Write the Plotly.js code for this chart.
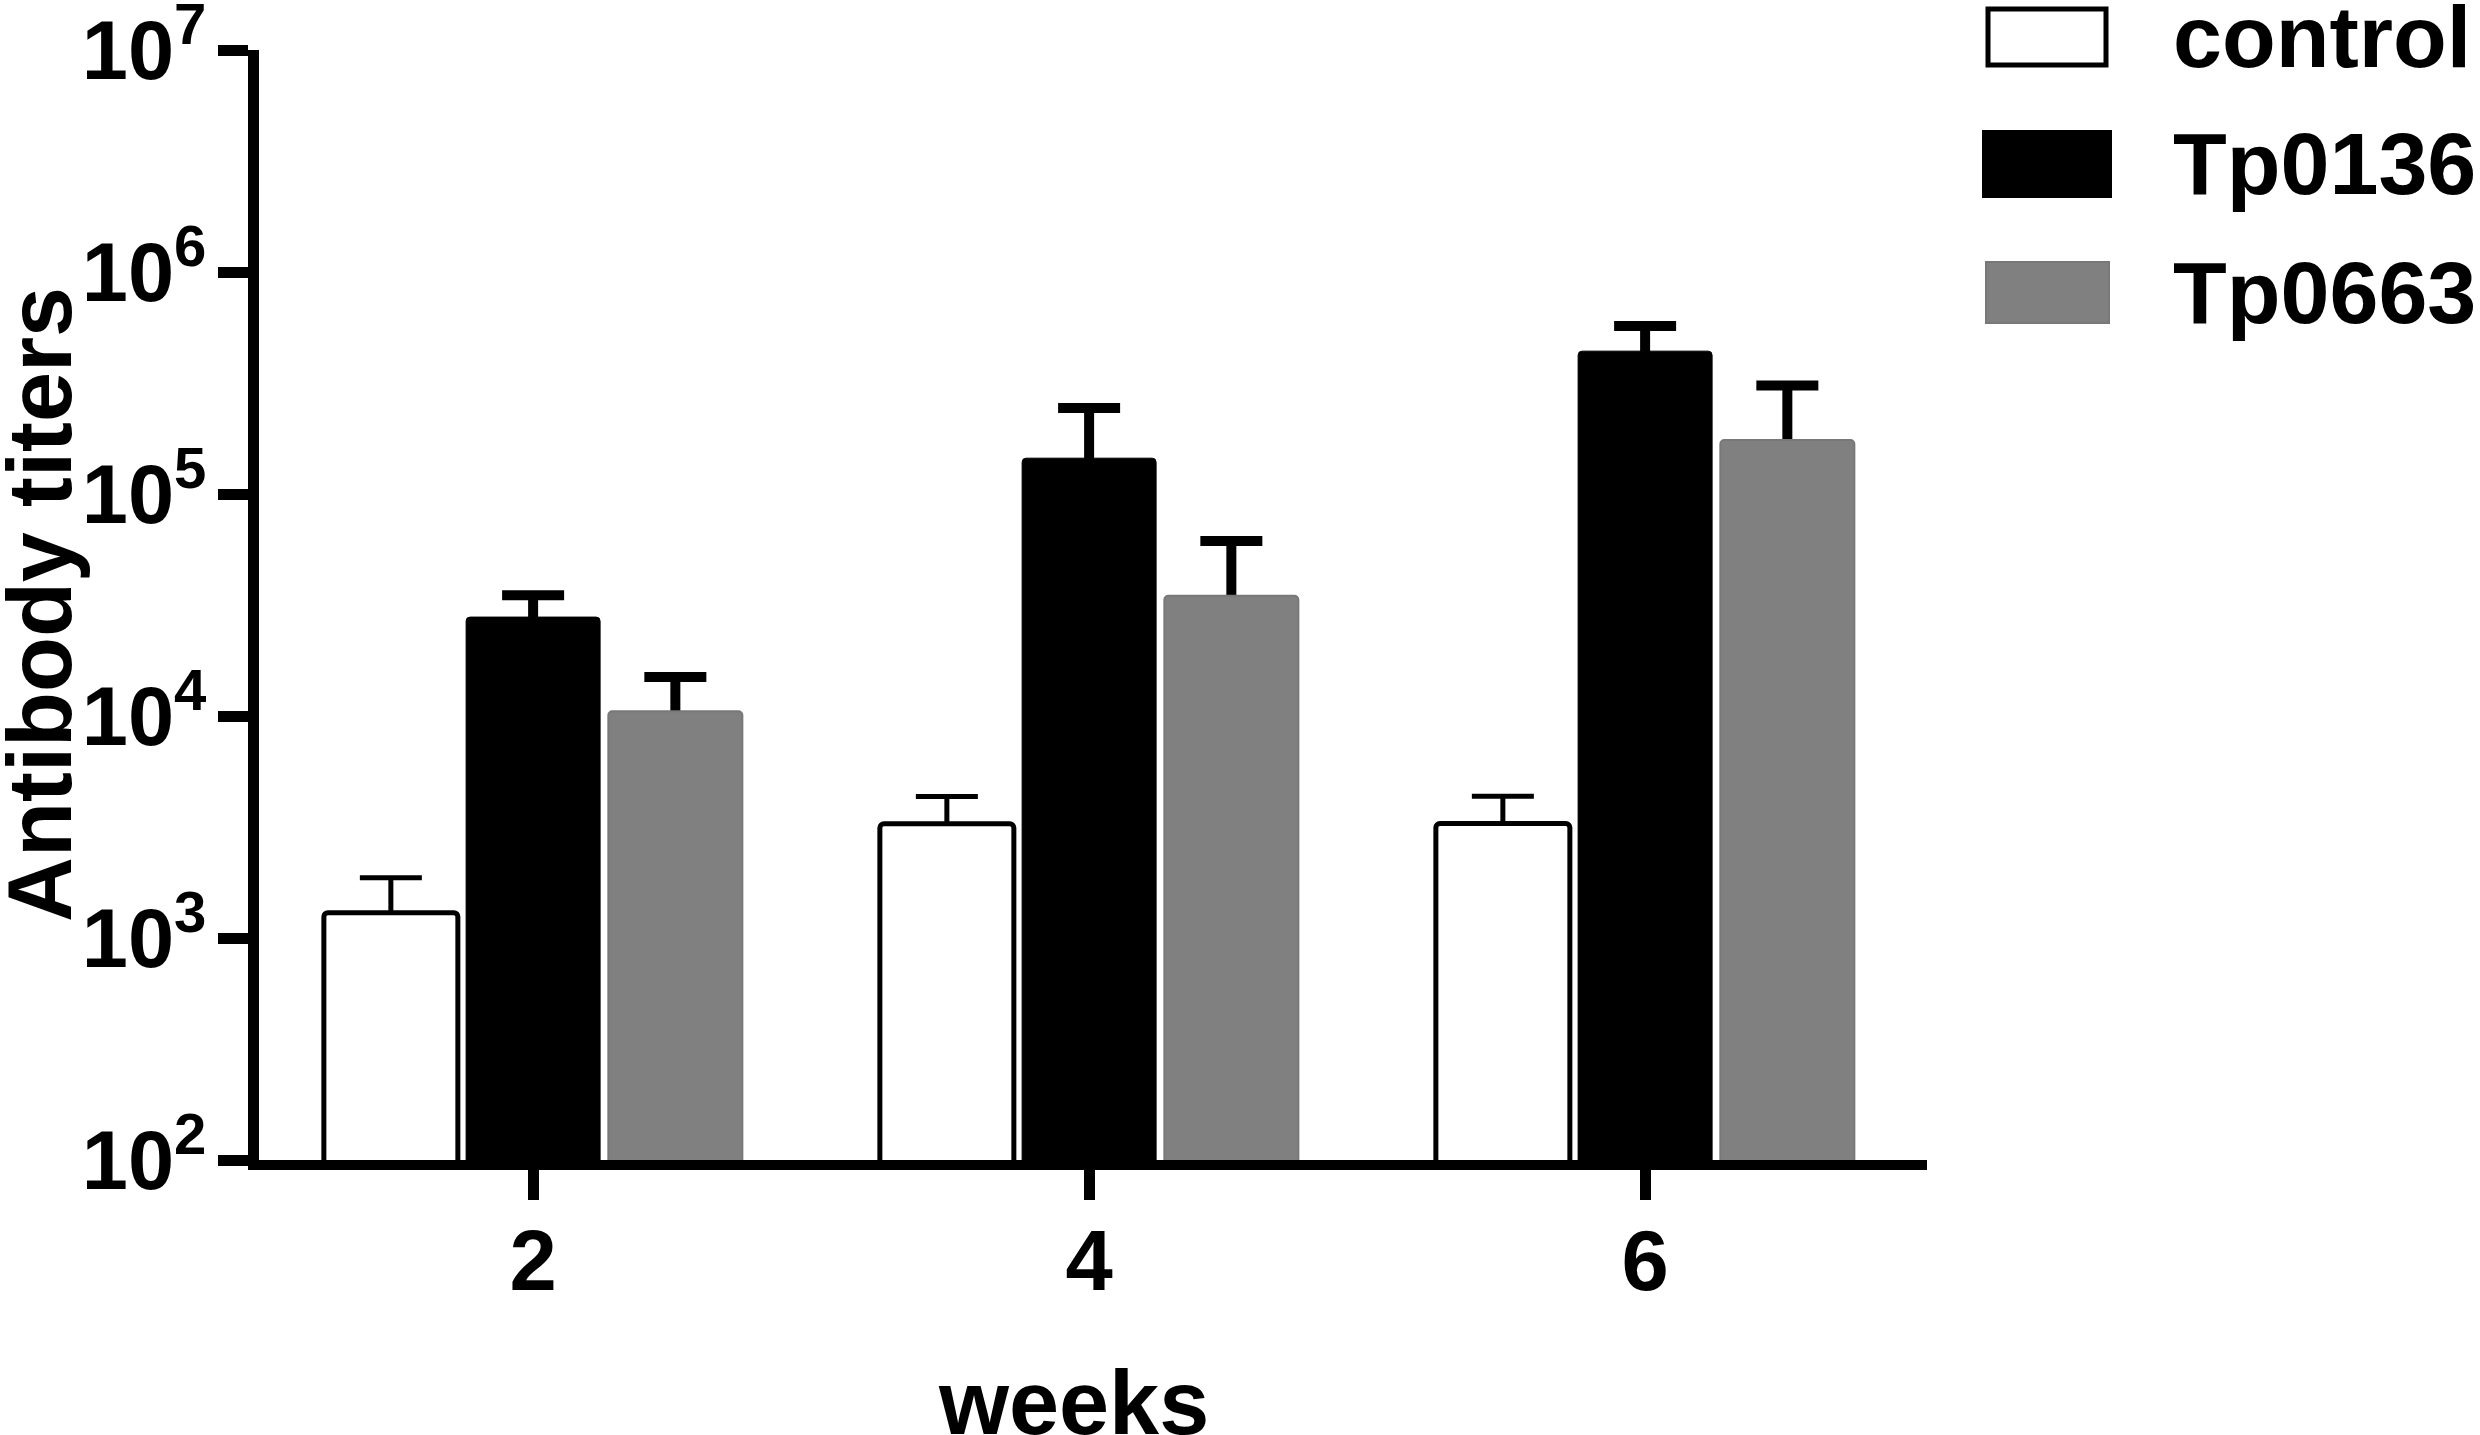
<!DOCTYPE html>
<html>
<head>
<meta charset="utf-8">
<script src="https://cdn.plot.ly/plotly-3.0.1.min.js"></script>
<style>
  html, body { margin: 0; padding: 0; background: #fff; }
  #chart { width: 2480px; height: 1435px; }
</style>
</head>
<body>
<div id="chart"></div>
<script>
// values (antibody titers, log scale)
var weeks = ["2", "4", "6"];
var seriesNames = ["control", "Tp0136", "Tp0663"];
var controlMean = [1300, 3270, 3280];
var controlErr = [570, 1070, 1070];
var tp0136Mean = [27900, 145000, 440000];
var tp0136Err = [7100, 99000, 131000];
var tp0663Mean = [10500, 34800, 175000];
var tp0663Err = [4500, 26600, 133000];
var yTickVals = [1e2, 1e3, 1e4, 1e5, 1e6, 1e7];
var yTickText = ["10<sup>2</sup>", "10<sup>3</sup>", "10<sup>4</sup>", "10<sup>5</sup>", "10<sup>6</sup>", "10<sup>7</sup>"];
var xTitle = "weeks";
var yTitle = "Antibody titers";

var W = 2480, H = 1435;
var M = {l: 259, r: 553, t: 50, b: 275};
var FONT = "Liberation Sans, Arial, Helvetica, sans-serif";
var Y_MIN = 100;

var means = [controlMean, tp0136Mean, tp0663Mean];
var errs = [controlErr, tp0136Err, tp0663Err];
var fills = ["#ffffff", "#000000", "#808080"];
var outlines = ["#000000", "#000000", "#787878"];
var outlineW = [5, 1, 2];
var errThick = [5, 10, 10];

var traces = [];
// error bars first, so the real bars drawn later hide the part inside them
for (var i = 0; i < 3; i++) {
    var down = means[i].map(function(v) { return v - Y_MIN; });
    traces.push({
        type: "bar",
        x: weeks,
        y: means[i],
        offsetgroup: "g" + i,
        marker: {color: "rgba(0,0,0,0)", line: {width: 0}},
        error_y: {
            type: "data",
            symmetric: false,
            array: errs[i],
            arrayminus: down,
            color: "#000",
            thickness: errThick[i],
            width: 31
        },
        showlegend: false,
        hoverinfo: "skip"
    });
}
for (var i = 0; i < 3; i++) {
    traces.push({
        type: "bar",
        name: seriesNames[i],
        x: weeks,
        y: means[i],
        offsetgroup: "g" + i,
        marker: {color: fills[i], line: {color: outlines[i], width: outlineW[i]}},
        showlegend: false
    });
}

// pixel -> paper helpers for the hand placed bits
function px(x) { return (x - M.l) / (W - M.l - M.r); }
function py(y) { return (H - M.b - y) / (H - M.t - M.b); }

// legend drawn by hand, the built-in one can't make big swatches
var swatches = [
    {x0: 1988, x1: 2106, y0: 9, y1: 65},
    {x0: 1983, x1: 2111, y0: 131, y1: 197},
    {x0: 1986, x1: 2109, y0: 262, y1: 323}
];
var textMid = [37, 164, 292];
var shapes = [], annotations = [];
for (var i = 0; i < 3; i++) {
    var s = swatches[i];
    shapes.push({
        type: "rect", xref: "paper", yref: "paper",
        x0: px(s.x0), x1: px(s.x1), y0: py(s.y1), y1: py(s.y0),
        fillcolor: fills[i],
        line: {color: outlines[i], width: i === 0 ? 5 : 2}
    });
    annotations.push({
        xref: "paper", yref: "paper",
        x: px(2172), y: py(textMid[i]),
        xanchor: "left", yanchor: "middle",
        text: seriesNames[i], showarrow: false, borderpad: 0,
        font: {family: FONT, size: 88, weight: "bold", color: "#000"}
    });
}

// axis titles as annotations so they sit exactly where the reference has them
annotations.push({
    xref: "paper", yref: "paper",
    x: px(40), y: py(605),
    xanchor: "center", yanchor: "middle",
    textangle: -90,
    text: yTitle, showarrow: false, borderpad: 0,
    font: {family: FONT, size: 90, weight: "bold", color: "#000"}
});
annotations.push({
    xref: "paper", yref: "paper",
    x: px(1073), y: py(1403),
    xanchor: "center", yanchor: "middle",
    text: xTitle, showarrow: false, borderpad: 0,
    font: {family: FONT, size: 90, weight: "bold", color: "#000"}
});

var layout = {
    width: W, height: H,
    margin: M,
    paper_bgcolor: "#fff",
    plot_bgcolor: "#fff",
    barmode: "group",
    bargap: 0.2325,
    bargroupgap: 0.058,
    barcornerradius: 4,
    showlegend: false,
    font: {family: FONT, color: "#000"},
    xaxis: {
        type: "category",
        range: [-0.493, 2.507],
        showline: true, linecolor: "#000", linewidth: 10,
        ticks: "outside", ticklen: 30, tickwidth: 11, tickcolor: "#000",
        ticklabelstandoff: -12,
        tickfont: {family: FONT, size: 85, weight: "bold"},
        showgrid: false, zeroline: false
    },
    yaxis: {
        type: "log",
        range: [2, 7],
        tickvals: yTickVals,
        ticktext: yTickText,
        ticklabeloverflow: "allow",
        showline: true, linecolor: "#000", linewidth: 11,
        ticks: "outside", ticklen: 30, tickwidth: 11, tickcolor: "#000",
        ticklabelstandoff: -5,
        tickfont: {family: FONT, size: 83, weight: "bold"},
        showgrid: false, zeroline: false
    },
    shapes: shapes,
    annotations: annotations
};

Plotly.newPlot("chart", traces, layout, {displayModeBar: false, staticPlot: true});
</script>
</body>
</html>
